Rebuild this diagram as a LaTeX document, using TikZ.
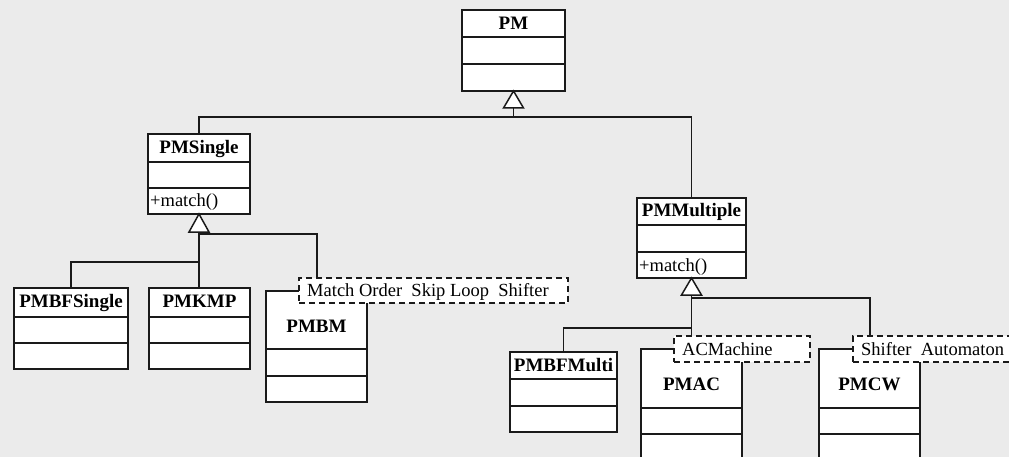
\documentclass[tikz,border=0pt]{standalone}
\usepackage{fontspec}
\setmainfont{Liberation Serif}
\usetikzlibrary{calc}
\definecolor{bgc}{HTML}{EBEBEB}
\definecolor{lnc}{HTML}{1A1A1A}
\tikzset{
 clsbox/.style={draw=lnc, fill=white, line width=1.6pt, inner sep=0pt, outer sep=0pt, rectangle},
 divline/.style={draw=lnc, line width=1.5pt},
 clstitle/.style={anchor=base, inner sep=0pt, font=\fontsize{19}{22}\selectfont\bfseries, text=black},
 opstext/.style={anchor=base west, inner sep=0pt, font=\fontsize{18.5}{22}\selectfont, text=black},
 tmplbox/.style={draw=lnc, fill=white, dashed, dash pattern=on 6pt off 4pt, line width=1.5pt, inner sep=0pt, outer sep=0pt, anchor=north west, rectangle},
 tmpltext/.style={anchor=base west, inner sep=0pt, font=\fontsize{18.5}{22}\selectfont, text=black},
 conn/.style={draw=lnc, line width=1.4pt},
 gentri/.style={draw=lnc, fill=white, line width=1.5pt, line join=miter},
}
\newcommand{\umlcls}[9]{%
  \node[clsbox, minimum width={(#4-#2)*1pt}, minimum height={(#5-#3)*1pt}] (#1) at ({(#2+#4)/2},{(#3+#5)/2}) {};
  \draw[divline] (#2,#6) -- (#4,#6) (#2,#7) -- (#4,#7);
  \node[clstitle] (#1-t) at ({(#2+#4)/2},#9) {#8};
}
\newcommand{\umltmpl}[6]{%
  \node[tmplbox, minimum width={(#4-#2)*1pt}, minimum height={(#5-#3)*1pt}] (#1) at (#2,#3) {};
  \node[tmpltext] (#1-t) at ({#2+8},{#5-7}) {#6};
}
\begin{document}
\begin{tikzpicture}[x=1pt,y=-1pt]
\useasboundingbox (0,0) rectangle (1009,457);
\fill[bgc] (0,0) rectangle (1009,457);
\begin{scope}
\clip (0,0) rectangle (1009,457);
% classes
\umlcls{pm}{462}{10}{565}{91}{37}{64}{PM}{30}
\umlcls{pms}{148}{134}{250}{214}{162}{188}{PMSingle}{154}
\node[opstext] (pms-op) at (150,207) {+match()};
\umlcls{pmm}{637}{198}{746}{278}{225}{252}{PMMultiple}{217}
\node[opstext] (pmm-op) at (639,271) {+match()};
\umlcls{pmbfs}{14}{288}{128}{369}{317}{343}{PMBFSingle}{307}
\umlcls{pmk}{149}{288}{250}{369}{317}{343}{PMKMP}{307}
\umlcls{pmbm}{266}{291}{367}{402}{349}{376}{PMBM}{332}
\umlcls{pmbfm}{510}{352}{617}{432}{379}{406}{PMBFMulti}{371}
\umlcls{pmac}{641}{349}{742}{470}{408}{434}{PMAC}{390}
\umlcls{pmcw}{819}{349}{920}{470}{408}{434}{PMCW}{390}
% template parameter boxes
\umltmpl{n1}{299}{278}{568}{303}{Match Order\ \ Skip Loop\ \ Shifter}
\umltmpl{n2}{674}{336}{810}{362}{ACMachine}
\umltmpl{n3}{853}{336}{1015}{362}{Shifter\ \ Automaton}
% generalization: PM
\coordinate (t1) at ($(pm.south)+(0,17)$);
\draw[conn] (t1) -- (t1 |- 0,117) -| (pms.north);
\draw[conn] (t1 |- 0,117) -| (pmm.north);
\draw[gentri] (pm.south) -- ++(-10,17) -- ++(20,0) -- cycle;
% generalization: PMSingle
\coordinate (t2) at ($(pms.south)+(0,18)$);
\draw[conn] (t2) -- (t2 |- pmk.north);
\draw[conn] (t2 |- 0,262) -| (pmbfs.north);
\draw[conn] (t2 |- 0,234) -| ($(n1.north west)+(18,0)$);
\draw[gentri] (pms.south) -- ++(-10,18) -- ++(20,0) -- cycle;
% generalization: PMMultiple
\coordinate (t3) at ($(pmm.south)+(0,17)$);
\draw[conn] (t3) -- (t3 |- n2.north);
\draw[conn] (t3 |- 0,328) -| (pmbfm.north);
\draw[conn] (t3 |- 0,298) -| ($(n3.north west)+(17,0)$);
\draw[gentri] (pmm.south) -- ++(-10,17) -- ++(20,0) -- cycle;
\end{scope}
\end{tikzpicture}
\end{document}
